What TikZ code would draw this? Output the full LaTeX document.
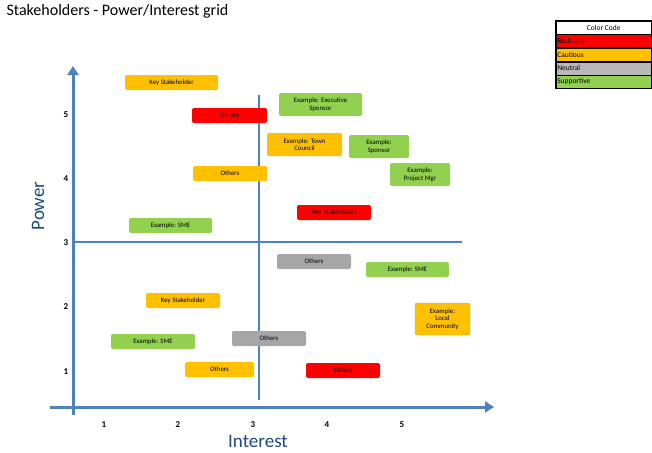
\documentclass[tikz,border=0pt]{standalone}
\usepackage{fontspec}
\setmainfont{Carlito}
\usetikzlibrary{arrows.meta}
\definecolor{cRed}{HTML}{FF0000}
\definecolor{cYel}{HTML}{FFC000}
\definecolor{cGray}{HTML}{A6A6A6}
\definecolor{cGreen}{HTML}{92D050}
\definecolor{axblue}{HTML}{4F81BD}
\definecolor{dblue}{HTML}{1F497D}
\tikzset{
 axis/.style={axblue,line width=3pt,-{Triangle[length=9pt,width=11pt]}},
 quad/.style={axblue,line width=2pt},
 tick/.style={font=\fontsize{9}{10}\selectfont\bfseries},
 boxtxt/.style={font=\fontsize{6.8}{7.6}\selectfont,align=center},
 leg/.style={draw=black,line width=0.5pt,minimum width=95pt,minimum height=13pt,inner sep=1pt,font=\fontsize{7.5}{8}\selectfont,anchor=north west}
}
\newcommand{\stkbox}[7]{\fill[#1,rounded corners=2pt] (#2,#3) rectangle (#4,#5); \node[boxtxt] (#7) at ({(#2+#4)/2},{(#3+#5)/2}) {#6};}
\begin{document}
\begin{tikzpicture}[x=1pt,y=-1pt]
\useasboundingbox (0,0) rectangle (652,452);
\node[anchor=west,font=\fontsize{16}{18}\selectfont] (title) at (3,11) {Stakeholders - Power/Interest grid};
% axes
\coordinate (ybot) at (73,415); \coordinate (ytop) at (73,66);
\coordinate (xl) at (50,407); \coordinate (xr) at (494,407);
\draw[axis] (ybot) -- (ytop);
\draw[axis] (xl) -- (xr);
\coordinate (qt) at (259,95); \coordinate (qb) at (259,400);
\coordinate (ql) at (75,242); \coordinate (qr) at (462,242);
\draw[quad] (qt) -- (qb);
\draw[quad] (ql) -- (qr);
\foreach \v/\y in {5/115,4/179,3/243,2/307,1/372} \node[tick] (ty\v) at (66,\y) {\v};
\foreach \v/\x in {1/104,2/178,3/253,4/327,5/402} \node[tick] (tx\v) at (\x,425) {\v};
\node[rotate=90,font=\fontsize{19}{20}\selectfont,dblue] (pw) at (38,206) {Power};
\node[font=\fontsize{19}{20}\selectfont,dblue] (it) at (258,441) {Interest};
% boxes
\stkbox{cYel}{125}{75}{218}{90}{Key Stakeholder}{b1}
\stkbox{cRed}{192}{108}{267}{123}{Others}{b2}
\stkbox{cGreen}{279}{93}{362}{116}{Example: Executive\\Sponsor}{b3}
\stkbox{cYel}{267}{133}{342}{156}{Example: Town\\Council}{b4}
\stkbox{cGreen}{349}{135}{409}{158}{Example:\\Sponsor}{b5}
\stkbox{cGreen}{390}{163}{450}{186}{Example:\\Project Mgr}{b6}
\stkbox{cYel}{193}{166}{267}{181}{Others}{b7}
\stkbox{cRed}{297}{205}{371}{220}{Key Stakeholder}{b8}
\stkbox{cGreen}{129}{218}{212}{233}{Example: SME}{b9}
\stkbox{cGray}{277}{254}{351}{269}{Others}{b10}
\stkbox{cGreen}{366}{262}{449}{277}{Example: SME}{b11}
\stkbox{cYel}{146}{293}{220}{308}{Key Stakeholder}{b12}
\fill[cYel,rounded corners=2pt,draw=axblue!30!cYel] (415,303) rectangle (470,335);
\node[boxtxt] (lc) at (442.5,319) {Example:\\Local\\Community};
\stkbox{cGray}{232}{331}{306}{346}{Others}{b14}
\stkbox{cGreen}{111}{334}{195}{349}{Example: SME}{b15}
\stkbox{cYel}{185}{362}{254}{377}{Others}{b16}
\stkbox{cRed}{306}{363}{380}{378}{Others}{b17}
% legend
\node[leg,fill=white,align=center] (l0) at (556,21) {Color Code};
\node[leg,fill=cRed,text width=93pt,align=left] (l1) at (l0.south west) {Resistant};
\node[leg,fill=cYel,text width=93pt,align=left] (l2) at (l1.south west) {Cautious};
\node[leg,fill=cGray!80,text width=93pt,align=left] (l3) at (l2.south west) {Neutral};
\node[leg,fill=cGreen,text width=93pt,align=left] (l4) at (l3.south west) {Supportive};
\draw[line width=1.2pt] (l0.north west) rectangle (l4.south east);
\end{tikzpicture}
\end{document}
